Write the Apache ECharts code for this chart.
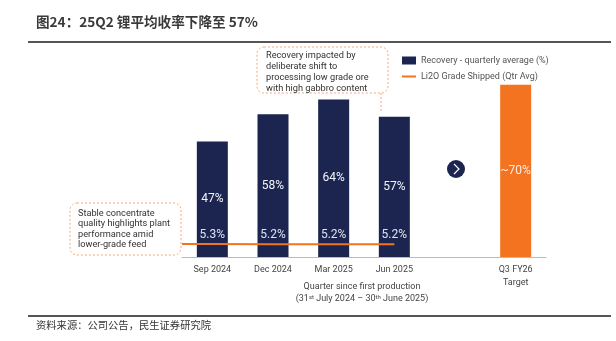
<!DOCTYPE html>
<html><head><meta charset="utf-8">
<script src="https://cdn.jsdelivr.net/npm/echarts@6/dist/echarts.min.js"></script>
<style>html,body{margin:0;padding:0;background:#fff}#c{width:616px;height:341px}</style>
</head><body><div id="c"></div>
<script>
var categories = ['Sep 2024','Dec 2024','Mar 2025','Jun 2025','','Q3 FY26\nTarget'];
var recovery = [47, 58, 64, 57, null, null];
var target = [null, null, null, null, null, 70];
var gradeX = [0, 0.5, 1.5, 2.5, 3.5];
var grade = [5.25, 5.3, 5.2, 5.2, 5.2];
var NAVY = '#1b2550', ORANGE = '#f47321';
var F = 'Roboto, "Noto Sans", sans-serif';
var chart = echarts.init(document.getElementById('c'));
var gradeData = gradeX.map(function(x,i){
  return {value:[x, grade[i]], label:{show: i>0}};
});
chart.setOption({
  animation:false,
  textStyle:{fontFamily:F},
  grid:{left:182, right:70, top:11, bottom:84},
  legend:{orient:'vertical', left:397, top:51, itemWidth:14, itemHeight:8, itemGap:7, itemStyle:{},
    textStyle:{fontSize:9, color:'#555', fontFamily:F},
    data:[{name:'Recovery - quarterly average (%)', icon:'rect'},
          {name:'Li2O Grade Shipped (Qtr Avg)', icon:'path://M0,0L14,0L14,2L0,2Z', itemStyle:{color:ORANGE}}]},
  xAxis:[{type:'category', data:categories,
    axisLine:{lineStyle:{color:'#bbb', width:1}}, axisTick:{show:false},
    axisLabel:{fontSize:9, color:'#444', margin:6, lineHeight:13, fontFamily:F}},
    {type:'value', min:0, max:6, show:false}],
  yAxis:{type:'value', min:0, max:100, show:false},
  series:[
    {name:'Recovery - quarterly average (%)', type:'bar', data:recovery, barWidth:31, barGap:'-100%',
     itemStyle:{color:NAVY},
     label:{show:true, position:'inside', color:'#f4f5fa', fontSize:12, fontFamily:F, formatter:'{c}%'}},
    {name:'Target', type:'bar', data:target, barWidth:31, barGap:'-100%',
     itemStyle:{color:ORANGE},
     label:{show:true, position:'inside', color:'#fdeee4', fontSize:12, fontFamily:F, formatter:'~{c}%'}},
    {name:'Li2O Grade Shipped (Qtr Avg)', type:'line', xAxisIndex:1, data:gradeData,
     symbol:'circle', symbolSize:0.1, showSymbol:true, lineStyle:{color:ORANGE, width:2}, itemStyle:{color:ORANGE},
     label:{show:true, position:'top', distance:3, color:'#dfe3f0', fontSize:12, fontFamily:F,
       formatter:function(p){return p.value[1].toFixed(1)+'%';}}}
  ],
  graphic:[
    {type:'text', left:36, top:15, style:{text:'图24：25Q2 锂平均收率下降至 57%', font:'bold 13.6px "Noto Sans CJK SC", sans-serif', fill:'#3a3a3a'}},
    {type:'line', shape:{x1:28, y1:42, x2:611, y2:42}, style:{stroke:'#555', lineWidth:2}},
    {type:'line', shape:{x1:28, y1:316, x2:611, y2:316}, style:{stroke:'#555', lineWidth:2}},
    {type:'text', left:36, top:320, style:{text:'资料来源：公司公告，民生证券研究院', font:'10.3px "Noto Sans CJK SC", sans-serif', fill:'#333'}},
    {type:'rect', shape:{x:257, y:47, width:131, height:46, r:7}, style:{fill:'#fff', stroke:'#f4a77a', lineWidth:1, lineDash:[2,2]}},
    {type:'line', shape:{x1:381, y1:93, x2:381, y2:112}, style:{stroke:'#f4a77a', lineWidth:1, lineDash:[2,2]}},
    {type:'text', x:266, y:50, style:{text:'Recovery impacted by\ndeliberate shift to\nprocessing low grade ore\nwith high gabbro content', font:'9.2px '+F, fill:'#333', lineHeight:11}},
    {type:'rect', shape:{x:70, y:203, width:111, height:52, r:7}, style:{fill:'#fff', stroke:'#f4a77a', lineWidth:1, lineDash:[2,2]}},
    {type:'text', x:78, y:208, style:{text:'Stable concentrate\nquality highlights plant\nperformance amid\nlower-grade feed', font:'9.2px '+F, fill:'#333', lineHeight:10.5}},
    {type:'circle', shape:{cx:456, cy:169, r:9}, style:{fill:NAVY}},
    {type:'polyline', shape:{points:[[454,164],[459,169],[454,174]]}, style:{stroke:'#fff', lineWidth:1.2, fill:null}},
    {type:'text', x:362, y:282, style:{
      rich:{n:{fontSize:9, fill:'#444', fontFamily:F}},
      text:'{n|Quarter since first production}', align:'center'}},
    {type:'text', x:362, y:294, style:{
      rich:{n:{fontSize:9, fill:'#444', fontFamily:F}, s:{fontSize:6, fill:'#444', fontFamily:F, padding:[0,0,4,0]}},
      text:'{n|(31}{s|st}{n| July 2024 – 30}{s|th}{n| June 2025)}', align:'center'}}
  ]
});
</script></body></html>
